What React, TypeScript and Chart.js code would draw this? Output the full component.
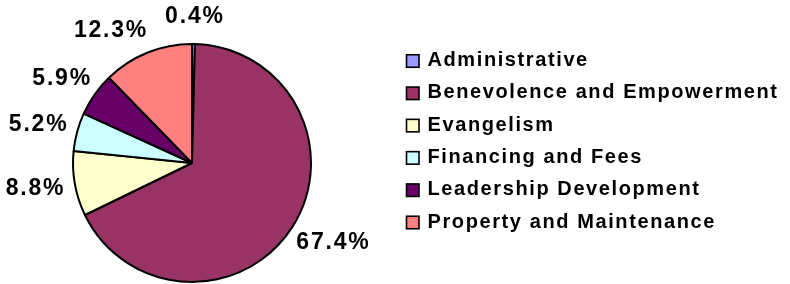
import { useEffect, useRef } from "react";
import { Chart, registerables } from "chart.js";

Chart.register(...registerables);

const categories = [
  "Administrative",
  "Benevolence and Empowerment",
  "Evangelism",
  "Financing and Fees",
  "Leadership Development",
  "Property and Maintenance",
];
const shares = [0.4, 67.4, 8.8, 5.2, 5.9, 12.3];
const percentLabels = ["0.4%", "67.4%", "8.8%", "5.2%", "5.9%", "12.3%"];
const sliceColors = ["#9999FF", "#993366", "#FFFFCC", "#CCFFFF", "#660066", "#FF8080"];

const FONT = "'Liberation Sans', Arial, Helvetica, sans-serif";

const pctPlugin = {
  id: "pctLabels",
  afterDatasetsDraw(chart: any) {
    const ctx = chart.ctx as CanvasRenderingContext2D;
    const meta = chart.getDatasetMeta(0);
    const spacing = 1.8;
    ctx.save();
    ctx.font = `bold 23px ${FONT}`;
    (ctx as any).letterSpacing = `${spacing}px`;
    ctx.fillStyle = "#000";
    ctx.textAlign = "center";
    ctx.textBaseline = "middle";
    const h = 17;
    const boxes: { cx: number; cy: number; w: number; text: string }[] = [];
    meta.data.forEach((arc: any, i: number) => {
      const p = arc.getProps(["x", "y", "startAngle", "endAngle", "outerRadius"], true);
      const mid = (p.startAngle + p.endAngle) / 2;
      const ux = Math.cos(mid);
      const uy = Math.sin(mid);
      const text = percentLabels[i];
      const w = ctx.measureText(text).width;
      const cx = p.x + ux * (p.outerRadius + 11 + w / 2);
      const cy = p.y + uy * (p.outerRadius + 19 + h / 2);
      boxes.push({ cx, cy, w, text });
    });
    // keep a minimum gap between the first label and the last one (both near the top)
    const first = boxes[0];
    const last = boxes[boxes.length - 1];
    const minGap = 17;
    if (Math.abs(first.cy - last.cy) < h + 6) {
      const rightEdge = last.cx + last.w / 2;
      const leftEdge = first.cx - first.w / 2;
      if (leftEdge - rightEdge < minGap) {
        last.cx -= minGap - (leftEdge - rightEdge);
        last.cy += 3;
      }
    }
    boxes.forEach((b) => ctx.fillText(b.text, b.cx + spacing / 2, b.cy));
    ctx.restore();
  },
};

const legendPlugin = {
  id: "customLegend",
  afterDraw(chart: any) {
    const ctx = chart.ctx as CanvasRenderingContext2D;
    const labels: string[] = chart.data.labels;
    const colors: string[] = chart.data.datasets[0].backgroundColor;
    const boxX = chart.chartArea.right + 22.5;
    const firstY = 61;
    const rowGap = 32.3;
    const box = 12.5;
    ctx.save();
    ctx.font = `bold 20px ${FONT}`;
    (ctx as any).letterSpacing = "1.6px";
    ctx.textAlign = "left";
    ctx.textBaseline = "middle";
    labels.forEach((lab, i) => {
      const cy = firstY + i * rowGap;
      ctx.fillStyle = colors[i];
      ctx.fillRect(boxX, cy - box / 2, box, box);
      ctx.lineWidth = 1.6;
      ctx.strokeStyle = "#000";
      ctx.strokeRect(boxX, cy - box / 2, box, box);
      ctx.fillStyle = "#000";
      ctx.fillText(lab, boxX + 21, cy - 0.5);
    });
    ctx.restore();
  },
};

export default function App() {
  const ref = useRef<HTMLCanvasElement | null>(null);
  useEffect(() => {
    if (!ref.current) return;
    const chart = new Chart(ref.current, {
      type: "pie",
      data: {
        labels: categories,
        datasets: [
          {
            data: shares,
            backgroundColor: sliceColors,
            borderColor: "#000",
            borderWidth: 2,
            radius: 119,
          } as any,
        ],
      },
      options: {
        responsive: false,
        animation: false,
        events: [],
        layout: { padding: { left: 0, right: 406, top: 42, bottom: 0 } },
        plugins: {
          legend: { display: false },
          tooltip: { enabled: false },
          title: { display: false },
        },
      },
      plugins: [pctPlugin, legendPlugin],
    });
    return () => chart.destroy();
  }, []);
  return (
    <div style={{ position: "fixed", left: 0, top: 0, width: 790, height: 284, background: "#fff" }}>
      <canvas ref={ref} width={790} height={284} style={{ display: "block", width: 790, height: 284 }} />
    </div>
  );
}
